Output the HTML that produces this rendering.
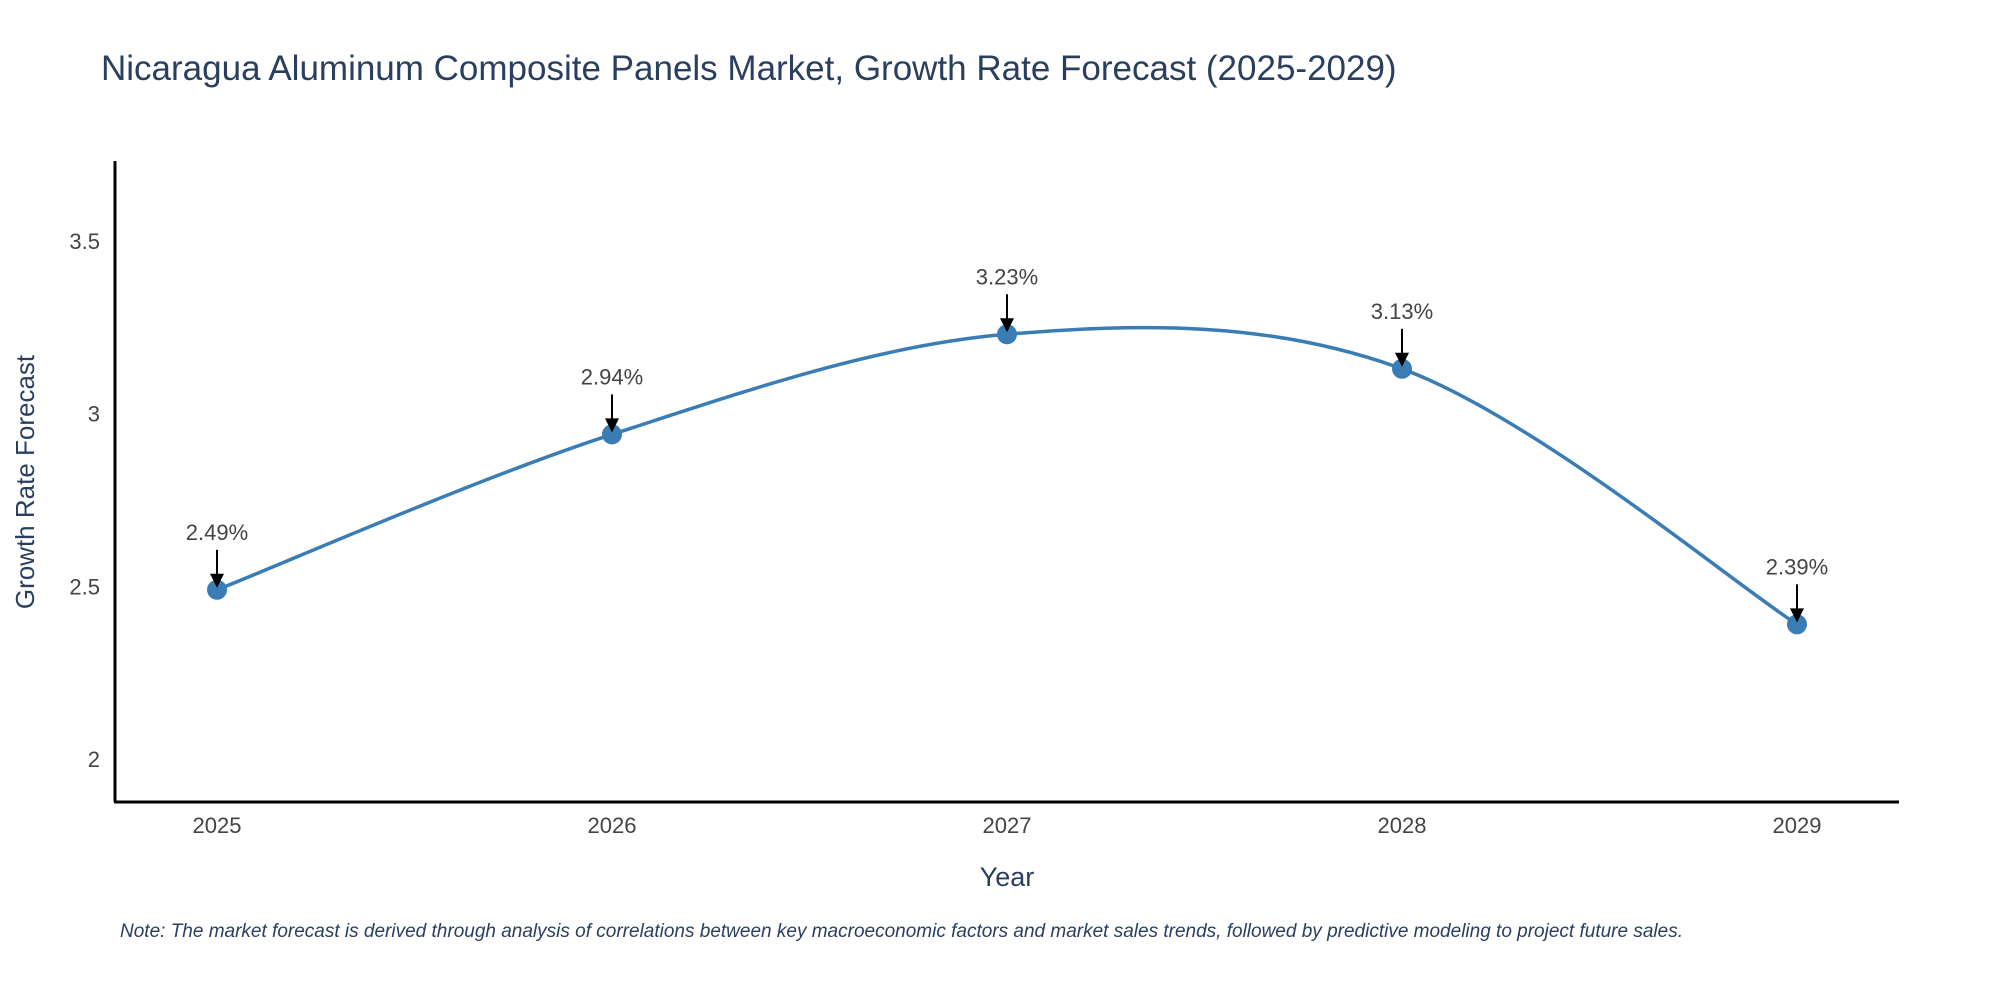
<!DOCTYPE html>
<html><head><meta charset="utf-8">
<style>
html,body{margin:0;padding:0;background:#fff;}
svg{display:block;font-family:"Liberation Sans",sans-serif;}
</style></head>
<body>
<svg id="chart" width="2000" height="1000" viewBox="0 0 2000 1000">
<text x="101" y="80" font-size="35" fill="#2a3f5f">Nicaragua Aluminum Composite Panels Market, Growth Rate Forecast (2025-2029)</text>
<g id="yticks"></g>
<g id="xticks"></g>
<line x1="115" y1="161" x2="115" y2="802" stroke="#000" stroke-width="3"/>
<line x1="114" y1="802" x2="1899" y2="802" stroke="#000" stroke-width="3"/>
<path id="curve" fill="none" stroke="#3a7db5" stroke-width="3.5"/>
<g id="points"></g>
<text transform="translate(34,482) rotate(-90)" text-anchor="middle" font-size="26" fill="#2a3f5f">Growth Rate Forecast</text>
<text x="1007" y="886" text-anchor="middle" font-size="27" fill="#2a3f5f">Year</text>
<text x="120" y="937" font-size="19" font-style="italic" fill="#2a3f5f">Note: The market forecast is derived through analysis of correlations between key macroeconomic factors and market sales trends, followed by predictive modeling to project future sales.</text>
</svg>
<script>
const years = [2025, 2026, 2027, 2028, 2029];
const growth = [2.49, 2.94, 3.23, 3.13, 2.39];
const labels = ["2.49%", "2.94%", "3.23%", "3.13%", "2.39%"];
const yTicks = [2, 2.5, 3, 3.5];

const NS = "http://www.w3.org/2000/svg";
function xs(v){ return 217 + (v - 2025) * 395; }
function ys(v){ return 759 - (v - 2) * 345.3; }

const yg = document.getElementById('yticks');
yTicks.forEach(t => {
  const el = document.createElementNS(NS, 'text');
  
  
  el.setAttribute('x', 100); el.setAttribute('y', ys(t) + 8);
  el.setAttribute('text-anchor', 'end'); el.setAttribute('font-size', '22'); el.setAttribute('fill', '#444');
  el.textContent = String(t);
  yg.appendChild(el);
});
const xg = document.getElementById('xticks');
years.forEach(y => {
  const el = document.createElementNS(NS, 'text');
  
  
  el.setAttribute('x', xs(y)); el.setAttribute('y', 833);
  el.setAttribute('text-anchor', 'middle'); el.setAttribute('font-size', '22'); el.setAttribute('fill', '#444');
  el.textContent = String(y);
  xg.appendChild(el);
});

// Catmull-Rom spline through points
const P = years.map((y, i) => [xs(y), ys(growth[i])]);
let d = 'M' + P[0][0] + ',' + P[0][1];
const k = 0.5;
for (let i = 0; i < P.length - 1; i++) {
  const p0 = P[i - 1] || P[i], p1 = P[i], p2 = P[i + 1], p3 = P[i + 2] || P[i + 1];
  const c1 = [p1[0] + (p2[0] - p0[0]) * k / 3, p1[1] + (p2[1] - p0[1]) * k / 3];
  const c2 = [p2[0] - (p3[0] - p1[0]) * k / 3, p2[1] - (p3[1] - p1[1]) * k / 3];
  d += ' C' + c1[0] + ',' + c1[1] + ' ' + c2[0] + ',' + c2[1] + ' ' + p2[0] + ',' + p2[1];
}
document.getElementById('curve').setAttribute('d', d);

const pg = document.getElementById('points');
years.forEach((y, i) => {
  const cx = xs(y), cy = ys(growth[i]);
  const c = document.createElementNS(NS, 'circle');
  
  
  c.setAttribute('cx', cx); c.setAttribute('cy', cy); c.setAttribute('r', 10);
  c.setAttribute('fill', '#3a7db5');
  pg.appendChild(c);
  const ln = document.createElementNS(NS, 'line');
  
  
  ln.setAttribute('x1', cx); ln.setAttribute('y1', cy - 40); ln.setAttribute('x2', cx); ln.setAttribute('y2', cy - 12);
  ln.setAttribute('stroke', '#000'); ln.setAttribute('stroke-width', '2');
  pg.appendChild(ln);
  const head = document.createElementNS(NS, 'polygon');
  
  
  head.setAttribute('points', (cx - 7) + ',' + (cy - 16) + ' ' + (cx + 7) + ',' + (cy - 16) + ' ' + cx + ',' + (cy - 2));
  head.setAttribute('fill', '#000');
  pg.appendChild(head);
  const t = document.createElementNS(NS, 'text');
  
  
  t.setAttribute('x', cx); t.setAttribute('y', cy - 50);
  t.setAttribute('text-anchor', 'middle'); t.setAttribute('font-size', '22'); t.setAttribute('fill', '#444');
  t.textContent = labels[i];
  pg.appendChild(t);
});
</script>
</body></html>
